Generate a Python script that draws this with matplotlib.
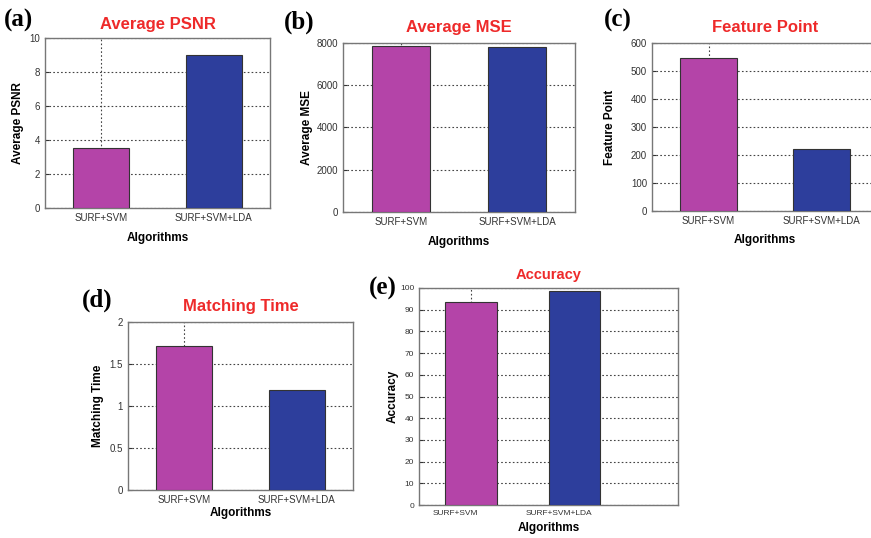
import numpy as np
import matplotlib
matplotlib.use("Agg")
import matplotlib.pyplot as plt

plt.rcParams["font.family"] = ["Liberation Sans", "DejaVu Sans"]

# data for each panel
algos = ["SURF+SVM", "SURF+SVM+LDA"]
psnr = [3.55, 9.0]
mse = [7840, 7820]
feature_pts = [545, 222]
match_time = [1.71, 1.19]
accuracy = [93.5, 98.5]

titles = ["Average PSNR", "Average MSE", "Feature Point", "Matching Time", "Accuracy"]
ylabels = ["Average PSNR", "Average MSE", "Feature Point", "Matching Time", "Accuracy"]
panel_tags = ["(a)", "(b)", "(c)", "(d)", "(e)"]
values = [psnr, mse, feature_pts, match_time, accuracy]
yticks = [np.arange(0, 11, 2), np.arange(0, 8001, 2000), np.arange(0, 601, 100),
          [0, 0.5, 1, 1.5, 2], np.arange(0, 101, 10)]
ytick_labels = [None, None, None, ["0", "0.5", "1", "1.5", "2"], None]

W, H = 871, 538
bar_colors = ["#b444a8", "#2d3e9c"]

# axes boxes in pixels: left, top, right, bottom
boxes = [(45, 38, 270, 208), (343, 43, 575, 212), (652, 43, 878, 211),
         (128, 322, 353, 490), (419, 288, 678, 505)]
xlims = [(0.5, 2.5)] * 4 + [(0.5, 3.0)]
title_y = [24, 28, 28, 306, 275]
title_size = [12, 12, 12, 12, 10.5]
tag_pos = [(4, 20), (284, 22), (604, 20), (82, 300), (369, 288)]
xlabel_y = [238, 242, 240, 513, 528]
ylabel_x = [18, 307, 610, 98, 393]
tick_size = [7, 7, 7, 7, 6]
label_shift = [0, 0, 0, 0, -15]  # px, tick labels in (e) sit left of the bars

fig = plt.figure(figsize=(W / 100, H / 100), dpi=100)

for i in range(5):
    l, t, r, b = boxes[i]
    ax = fig.add_axes([l / W, 1 - b / H, (r - l) / W, (b - t) / H])
    x = np.arange(1, len(algos) + 1)
    ax.bar(x, values[i], width=0.5, color=bar_colors, edgecolor="#333333",
           linewidth=0.8, zorder=3)
    ax.set_xlim(*xlims[i])
    ax.set_ylim(yticks[i][0], yticks[i][-1])
    ax.set_yticks(yticks[i])
    if ytick_labels[i] is not None:
        ax.set_yticklabels(ytick_labels[i])
    dx = label_shift[i] * (xlims[i][1] - xlims[i][0]) / (r - l)
    ax.set_xticks(x + dx)
    ax.set_xticklabels(algos)
    ax.yaxis.grid(True, linestyle=(0, (1.5, 2)), color="#444444", linewidth=0.8, zorder=0)
    ax.axvline(1, linestyle=(0, (1.5, 2)), color="#444444", linewidth=0.8, zorder=0)
    ax.tick_params(direction="in", length=3, labelsize=tick_size[i], colors="#333333")
    for s in ax.spines.values():
        s.set_color("#777777")
        s.set_linewidth(1.0)
    # labels placed in figure pixels
    cx = (l + r) / 2
    fig.text(cx / W, 1 - title_y[i] / H, titles[i], color="#ee2a2a", fontsize=title_size[i],
             fontweight="bold", ha="center", va="center")
    fig.text(tag_pos[i][0] / W, 1 - tag_pos[i][1] / H, panel_tags[i], fontsize=18,
             fontweight="bold", ha="left", va="center", family="Liberation Serif")
    fig.text(cx / W, 1 - xlabel_y[i] / H, "Algorithms", fontsize=8.5, fontweight="bold",
             ha="center", va="center")
    fig.text(ylabel_x[i] / W, 1 - ((t + b) / 2) / H, ylabels[i], fontsize=8.5,
             fontweight="bold", rotation=90, ha="center", va="center")

fig.savefig("out.png", dpi=100)
